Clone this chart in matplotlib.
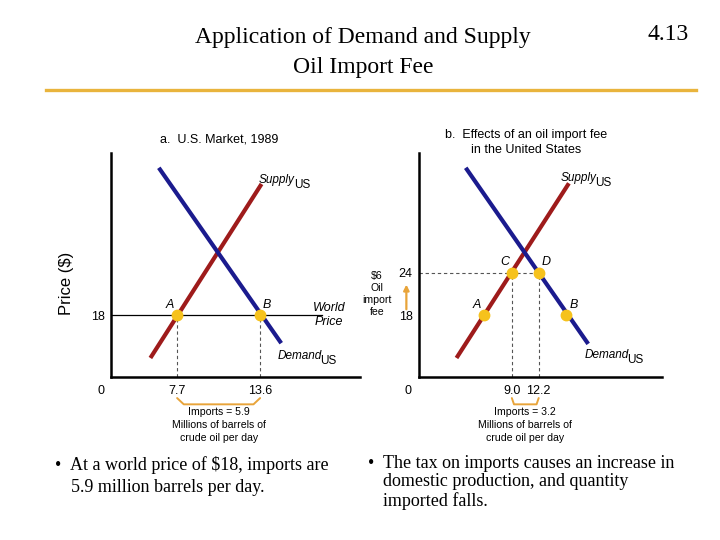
import matplotlib
matplotlib.use("Agg")
import matplotlib.pyplot as plt
import matplotlib.transforms as mtransforms

plt.rcParams["font.family"] = ["Liberation Sans", "DejaVu Sans"]

SUPPLY = "#9E1B1B"
DEMAND = "#1B1B8E"
DOT = "#F6C21C"
ORANGE = "#E8A43A"
RULE = "#E9B43C"
DASH = "#555555"

# panel a: U.S. market, 1989 (quantity in millions of barrels/day, price in $)
a_supply_q = [5.8, 13.7]
a_supply_p = [11.9, 36.6]
a_demand_q = [6.4, 15.1]
a_demand_p = [38.9, 14.0]
a_points = ["A", "B"]
a_points_q = [7.7, 13.6]
world_price = 18
a_ticks = [7.7, 13.6]

# panel b: effects of a $6 import fee
b_supply_q = [2.4, 15.8]
b_supply_p = [11.9, 36.7]
b_demand_q = [3.5, 18.1]
b_demand_p = [38.9, 13.9]
b_points = ["A", "B", "C", "D"]
b_points_q = [5.7, 15.5, 9.0, 12.2]
b_points_p = [18, 18, 24, 24]
fee_price = 24
b_ticks = [9.0, 12.2]

W, H = 720, 540
fig = plt.figure(figsize=(7.2, 5.4), dpi=100)


def fx(x):
    return x / W


def fy(y):
    return 1 - y / H


def ftext(x, y, s, **kw):
    fig.text(fx(x), fy(y), s, **kw)


# header
HEAD = dict(fontsize=17, family="Liberation Serif", va="center")
ftext(363, 38, "Application of Demand and Supply", ha="center", **HEAD)
ftext(363, 68, "Oil Import Fee", ha="center", **HEAD)
ftext(668, 35, "4.13", ha="center", **HEAD)
fig.add_artist(plt.Line2D([fx(46), fx(696)], [fy(90), fy(90)],
                          color=RULE, lw=2.4))


def make_axes(left, right):
    ax = fig.add_axes([fx(left), fy(377), fx(right - left), (377 - 153) / H])
    for s in ("top", "right"):
        ax.spines[s].set_visible(False)
    for s in ("left", "bottom"):
        ax.spines[s].set_linewidth(1.8)
        ax.spines[s].set_color("black")
    ax.set_facecolor("none")
    ax.tick_params(axis="x", length=0, labelsize=9, pad=6)
    ax.tick_params(axis="y", length=0, labelsize=9, pad=4.5)
    return ax


def point_labels(ax, names, qs, ps):
    for n, q, p in zip(names, qs, ps):
        dx = -5 if n in ("A", "C") else 5
        dy = 8 if n in ("C", "D") else 7.5
        ax.annotate(n, (q, p), textcoords="offset points", xytext=(dx, dy),
                    ha="center", va="center", fontsize=9, style="italic")


def curve_label(ax, q, p, name, dx, dy):
    # italic name with a full-size upright "US" subscript
    ax.annotate(name, (q, p), textcoords="offset points", xytext=(dx, dy),
                ha="right", va="center", fontsize=8.5, style="italic")
    ax.annotate("US", (q, p), textcoords="offset points",
                xytext=(dx - 0.8, dy - 3.5), ha="left", va="center",
                fontsize=8.5)


def bracket(ax, q1, q2, lines):
    tr = mtransforms.blended_transform_factory(ax.transData, ax.transAxes)
    span = q2 - q1
    ax.plot([q1, q1 + 0.08 * span, q2 - 0.08 * span, q2],
            [-0.094, -0.122, -0.122, -0.094], transform=tr, color=ORANGE,
            lw=1.4, clip_on=False, solid_capstyle="round")
    for i, s in enumerate(lines):
        ax.text((q1 + q2) / 2, -0.156 - i * 0.059, s, transform=tr,
                ha="center", va="center", fontsize=7.6)


LEG = ["Millions of barrels of", "crude oil per day"]
DASHES = (0, (3, 2.5))

# ---- panel a
ax = make_axes(111, 360)
ax.set_xlim(3.0, 20.7)
ax.set_ylim(9.2, 41)
ax.plot(a_supply_q, a_supply_p, color=SUPPLY, lw=3, solid_capstyle="butt")
ax.plot(a_demand_q, a_demand_p, color=DEMAND, lw=3, solid_capstyle="butt")
ax.plot([3.0, 18.0], [world_price, world_price], color="black", lw=0.9)
for q in a_points_q:
    ax.plot([q, q], [9.2, world_price], ls=DASHES, color=DASH, lw=0.8)
ax.plot(a_points_q, [world_price] * 2, "o", color=DOT, ms=7.5, zorder=5)
point_labels(ax, a_points, a_points_q, [world_price] * 2)
ax.set_xticks(a_ticks, [f"{v:.1f}" for v in a_ticks])
ax.set_yticks([world_price], [str(world_price)])
ax.text(-0.04, -0.063, "0", transform=ax.transAxes, ha="center",
        va="center", fontsize=9)
ax.text(18.5, world_price, "World\nPrice", ha="center", va="center",
        fontsize=9, style="italic", linespacing=1.2)
curve_label(ax, a_supply_q[1], a_supply_p[1], "Supply", 24, 3)
curve_label(ax, a_demand_q[1], a_demand_p[1], "Demand", 29, -9)
ftext(67, 283, "Price ($)", rotation=90, ha="center", va="center",
      fontsize=12)
ftext(219, 140, "a.  U.S. Market, 1989", ha="center", va="center",
      fontsize=9)
bracket(ax, a_points_q[0], a_points_q[1],
        [f"Imports = {a_points_q[1] - a_points_q[0]:.1f}"] + LEG)

# ---- panel b
bx = make_axes(419, 662)
bx.set_xlim(-2.07, 26.9)
bx.set_ylim(9.2, 41)
bx.plot(b_supply_q, b_supply_p, color=SUPPLY, lw=3, solid_capstyle="butt")
bx.plot(b_demand_q, b_demand_p, color=DEMAND, lw=3, solid_capstyle="butt")
bx.plot([-2.07, b_points_q[3]], [fee_price, fee_price], ls=DASHES,
        color=DASH, lw=0.8)
for q in b_points_q[2:]:
    bx.plot([q, q], [9.2, fee_price], ls=DASHES, color=DASH, lw=0.8)
bx.plot(b_points_q, b_points_p, "o", color=DOT, ms=7.5, zorder=5)
point_labels(bx, b_points, b_points_q, b_points_p)
bx.set_xticks(b_ticks, [f"{v:.1f}" for v in b_ticks])
bx.set_yticks([world_price, fee_price], [str(world_price), str(fee_price)])
bx.text(-0.045, -0.063, "0", transform=bx.transAxes, ha="center",
        va="center", fontsize=9)
bx.annotate("", xy=(-0.052, 0.425), xytext=(-0.052, 0.29),
            xycoords="axes fraction",
            arrowprops=dict(arrowstyle="-|>", color=ORANGE, lw=1.6,
                            mutation_scale=8))
ftext(377, 294, f"${fee_price - world_price}\nOil\nimport\nfee",
      ha="center", va="center", fontsize=7.6, linespacing=1.25)
curve_label(bx, b_supply_q[1], b_supply_p[1], "Supply", 20, 4)
curve_label(bx, b_demand_q[1], b_demand_p[1], "Demand", 29, -8)
ftext(526, 135, "b.  Effects of an oil import fee", ha="center",
      va="center", fontsize=9)
ftext(526, 150, "in the United States", ha="center", va="center",
      fontsize=9)
bracket(bx, b_points_q[2], b_points_q[3],
        [f"Imports = {b_points_q[3] - b_points_q[2]:.1f}"] + LEG)

# ---- bullets
SERIF = dict(fontsize=13, family="Liberation Serif", va="center", ha="left")
ftext(55, 465, "\u2022", **SERIF)
ftext(70, 465, "At a world price of $18, imports are", **SERIF)
ftext(71, 487, "5.9 million barrels per day.", **SERIF)
ftext(368, 463, "\u2022", **SERIF)
ftext(383, 463, "The tax on imports causes an increase in", **SERIF)
ftext(383, 482, "domestic production, and quantity", **SERIF)
ftext(383, 501, "imported falls.", **SERIF)

fig.savefig("out.png", dpi=100)
